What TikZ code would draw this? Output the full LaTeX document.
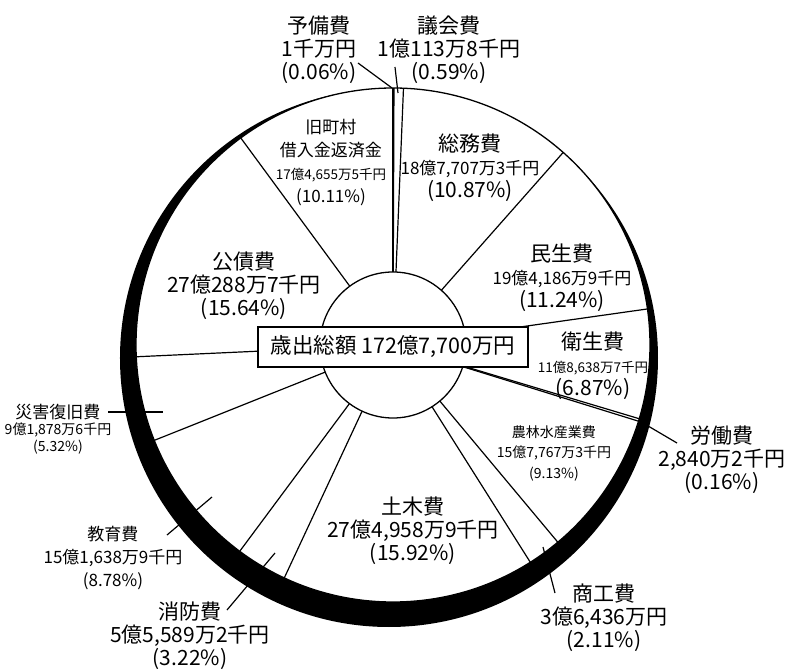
\documentclass[tikz,border=0pt]{standalone}
\usepackage{fontspec}
\setmainfont{Noto Sans CJK JP}
\newcommand{\midsz}[1]{{\fontsize{17}{23}\selectfont #1}}
\newcommand{\tinysz}[1]{{\fontsize{13.5}{23}\selectfont #1}}

\begin{document}
\begin{tikzpicture}
[x=1pt,y=1pt,
  ringDecorate/.style={draw,line width=1.3pt,fill=white},
  lineDecorate/.style={-,line width=1.2pt},
  labelDecorate/.style={align=center,inner sep=0pt,font=\fontsize{21}{23}\selectfont},
  smallDecorate/.style={labelDecorate,font=\fontsize{14}{17}\selectfont}]
\useasboundingbox (-393,-327) rectangle (395,345);
%% shadow and disc
\fill[black] (-4,-13) circle (269);
\draw[ringDecorate] (0,0) circle (257);
%% sector borders (cumulative percent)
\foreach \cum in {0,0.06,0.65,11.52,22.76,29.63,29.79,38.92,41.03,
  56.95,60.17,68.95,74.27,89.91}
{
  \draw[lineDecorate] ({90-3.6*\cum}:73) -- ({90-3.6*\cum}:257);
}
\draw[ringDecorate] (0,0) circle (73);
\node (total) at (0,-2) [draw,fill=white,line width=1.2pt,minimum width=270pt,
  minimum height=40pt,font=\fontsize{21.5}{24}\selectfont] {歳出総額 172億7,700万円};
%% labels
\foreach \name/\x/\y/\txt in {
  yobi/-74/295/{予備費\\1千万円\\(0.06\%)},
  gikai/56/295/{議会費\\1億113万8千円\\(0.59\%)},
  kyu/-62/182/{\midsz{旧町村}\\\midsz{借入金返済金}\\\tinysz{17億4,655万5千円}\\\midsz{(10.11\%)}},
  somu/77/177/{総務費\\\midsz{18億7,707万3千円}\\(10.87\%)},
  kosai/-149/59/{公債費\\27億288万7千円\\(15.64\%)},
  minsei/169/67/{民生費\\\midsz{19億4,186万9千円}\\(11.24\%)},
  eisei/200/-21/{衛生費\\\tinysz{11億8,638万7千円}\\(6.87\%)},
  doboku/20/-186/{土木費\\27億4,958万9千円\\(15.92\%)},
  rodo/329/-115/{労働費\\2,840万2千円\\(0.16\%)},
  shoko/211/-273/{商工費\\3億6,436万円\\(2.11\%)},
  shobo/-203/-291/{消防費\\5億5,589万2千円\\(3.22\%)},
  kyoiku/-280/-213/{\midsz{教育費}\\\midsz{15億1,638万9千円}\\\midsz{(8.78\%)}}}
{
  \node (\name) at (\x,\y) [labelDecorate] {\txt};
}
\node (norin) at (161,-108) [smallDecorate,font=\fontsize{14}{20.5}\selectfont]
  {農林水産業費\\15億7,767万3千円\\(9.13\%)};
\node (saigai) at (-335,-84) [smallDecorate,font=\fontsize{14}{16.5}\selectfont]
  {\midsz{災害復旧費}\\9億1,878万6千円\\(5.32\%)};
%% leader lines
\foreach \cname/\x/\y in {
  yobiA/-35/282, yobiB/-1/257, gikaiA/2/278, gikaiB/5/252,
  rodoA/250/-78, rodoB/284/-98, shokoA/150/-202, shokoB/162/-248,
  shoboA/-118/-208, shoboB/-166/-265, kyoikuA/-181/-152, kyoikuB/-226/-190,
  saigaiA/-230/-67, saigaiB/-285/-67}
{
  \coordinate (\cname) at (\x,\y);
}
\foreach \startnode/\endnode in {
  yobiA/yobiB, gikaiA/gikaiB, rodoA/rodoB, shokoA/shokoB,
  shoboA/shoboB, kyoikuA/kyoikuB, saigaiA/saigaiB}
{
  \draw[lineDecorate] (\startnode) -- (\endnode);
}
\end{tikzpicture}
\end{document}
